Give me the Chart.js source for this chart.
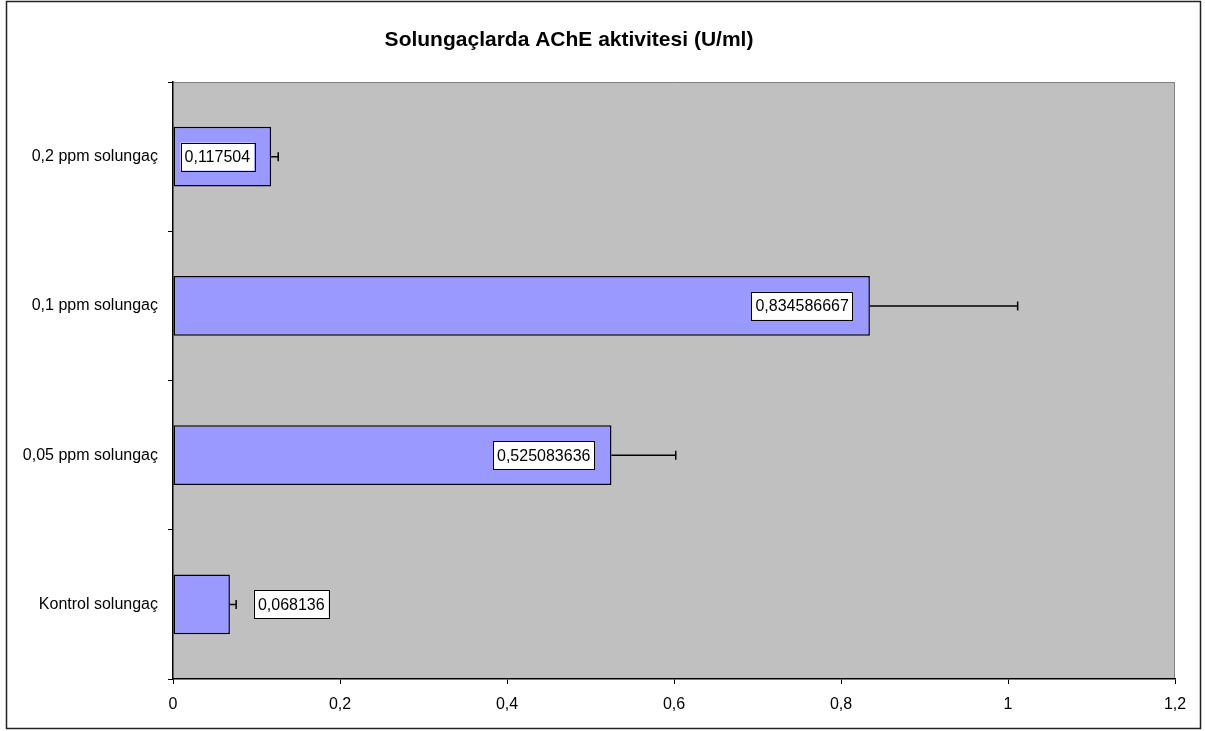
<!DOCTYPE html>
<html>
<head>
<meta charset="utf-8">
<script src="https://cdn.jsdelivr.net/npm/chart.js@4"></script>
<style>
  html, body { margin: 0; padding: 0; background: #fff; }
  #wrap { position: relative; width: 1205px; height: 731px; }
</style>
</head>
<body>
<div id="wrap"><canvas id="barChart" width="1205" height="731"></canvas></div>
<script>
// values (Excel order, bottom to top)
const categories = ['Kontrol solungaç', '0,05 ppm solungaç', '0,1 ppm solungaç', '0,2 ppm solungaç'];
const activity = [0.068136, 0.525083636, 0.834586667, 0.117504];
const activityLabels = ['0,068136', '0,525083636', '0,834586667', '0,117504'];
const errors = [0.0075, 0.077, 0.177, 0.0085];
const xTicks = [0, 0.2, 0.4, 0.6, 0.8, 1, 1.2];
const titleText = 'Solungaçlarda AChE aktivitesi (U/ml)';

const FONT = '"Liberation Sans", Arial, sans-serif';

// grey plot area, outer frame and the title (Excel centres it a bit left)
const backgroundPlugin = {
    id: 'background',
    beforeDraw(chart) {
        const ctx = chart.ctx;
        const a = chart.chartArea;
        ctx.save();
        ctx.fillStyle = '#fff';
        ctx.fillRect(0, 0, chart.width, chart.height);
        ctx.fillStyle = '#C0C0C0';
        ctx.fillRect(a.left, a.top, a.right - a.left, a.bottom - a.top);
        ctx.strokeStyle = '#808080';
        ctx.lineWidth = 1;
        ctx.beginPath();
        ctx.moveTo(a.left, a.top + 0.5);
        ctx.lineTo(a.right - 0.5, a.top + 0.5);
        ctx.lineTo(a.right - 0.5, a.bottom);
        ctx.stroke();
        ctx.strokeStyle = '#222';
        ctx.lineWidth = 1.5;
        ctx.strokeRect(6.5, 1.5, 1194, 727);

        ctx.fillStyle = '#000';
        ctx.font = 'bold 21px ' + FONT;
        ctx.textAlign = 'center';
        ctx.textBaseline = 'middle';
        ctx.fillText(titleText, 569, 40);
        ctx.restore();
    }
};

// error bars and boxed value labels
const errorLabelPlugin = {
    id: 'errorLabels',
    afterDatasetsDraw(chart) {
        const ctx = chart.ctx;
        const xScale = chart.scales.x;
        const meta = chart.getDatasetMeta(0);
        ctx.save();
        meta.data.forEach(function(bar, i) {
            const y = bar.y;
            const xEnd = bar.x;
            const xErr = xScale.getPixelForValue(activity[i] + errors[i]);
            ctx.strokeStyle = '#000';
            ctx.lineWidth = 1.5;
            ctx.beginPath();
            ctx.moveTo(xEnd, y);
            ctx.lineTo(xErr, y);
            ctx.moveTo(xErr, y - 4.5);
            ctx.lineTo(xErr, y + 4.5);
            ctx.stroke();

            ctx.font = '16px ' + FONT;
            const txt = activityLabels[i];
            const w = ctx.measureText(txt).width + 8;
            const h = 28;
            const barLeft = bar.base;
            let left;
            if (w + 20 < xEnd - barLeft) {
                left = xEnd - 17 - w;
            } else {
                left = xEnd + 24;
            }
            ctx.fillStyle = '#fff';
            ctx.fillRect(left, y - h / 2, w, h);
            ctx.strokeStyle = '#000';
            ctx.lineWidth = 1;
            ctx.strokeRect(Math.round(left) + 0.5, Math.round(y - h / 2) + 0.5, Math.round(w), h);
            ctx.fillStyle = '#000';
            ctx.textBaseline = 'middle';
            ctx.textAlign = 'left';
            ctx.fillText(txt, left + 4, y + 1);
        });
        ctx.restore();
    }
};

const ctx = document.getElementById('barChart').getContext('2d');
const myChart = new Chart(ctx, {
    type: 'bar',
    data: {
        labels: categories,
        datasets: [{
            data: activity,
            backgroundColor: '#9999FF',
            borderColor: '#000',
            borderWidth: 1.5,
            borderSkipped: false,
            barPercentage: 0.4,
            categoryPercentage: 1
        }]
    },
    options: {
        indexAxis: 'y',
        responsive: false,
        animation: false,
        devicePixelRatio: 1,
        layout: { padding: { left: 0, right: 30, top: 82, bottom: 0 } },
        plugins: {
            legend: { display: false },
            tooltip: { enabled: false },
            title: { display: false }
        },
        scales: {
            x: {
                min: 0,
                max: 1.2,
                afterBuildTicks(scale) {
                    scale.ticks = xTicks.map(v => ({ value: v }));
                },
                afterFit(scale) { scale.height = 52; },
                border: { display: true, color: '#000', width: 1.5 },
                grid: { drawOnChartArea: false, drawTicks: true, tickLength: 5, color: '#000', lineWidth: 1 },
                ticks: {
                    color: '#000',
                    font: { family: FONT, size: 16 },
                    padding: 11,
                    maxRotation: 0,
                    callback: v => String(v).replace('.', ',')
                }
            },
            y: {
                reverse: true,
                afterFit(scale) { scale.width = 173; },
                border: { display: true, color: '#000', width: 1.5 },
                grid: { drawOnChartArea: false, drawTicks: true, tickLength: 5, color: '#000', lineWidth: 1, offset: true },
                ticks: {
                    color: '#000',
                    font: { family: FONT, size: 16 },
                    padding: 10
                }
            }
        }
    },
    plugins: [backgroundPlugin, errorLabelPlugin]
});
</script>
</body>
</html>
